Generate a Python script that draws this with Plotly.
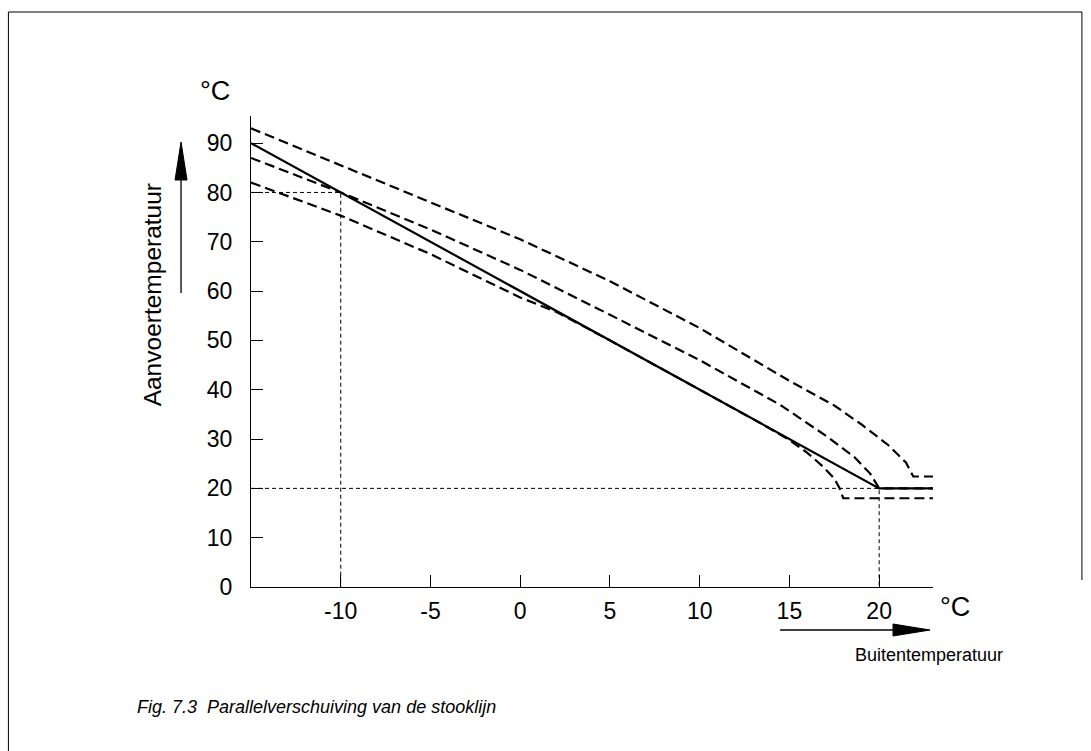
import plotly.graph_objects as go

# ---------------- data ----------------
base_x = [-15, 20, 23]
base_y = [90, 20, 20]

curveA_x = [-15, -10, -5, 0, 5, 10, 15, 17.5, 19, 20.5, 21.5, 21.9, 23]
curveA_y = [93, 85.5, 78, 70.5, 62, 52.5, 41.8, 36.8, 33, 28.8, 25.2, 22.4, 22.4]

curveB_x = [-15, -10, -5, 0, 5, 10, 14.5, 15.6, 17.1, 18.6, 19.5, 20, 23]
curveB_y = [87, 80, 72.5, 64.3, 55.2, 46, 36.9, 34.2, 30.5, 26.4, 23, 20, 20]

curveC_x = [-15, -10, -5, 0, 2, 5, 10, 13.5, 15, 16, 16.9, 17.5, 17.8, 18, 23]
curveC_y = [82, 75.3, 67.5, 58.7, 55.8, 50, 40, 33, 29.8, 27.2, 24.3, 22, 20, 18, 18]

# guide lines (design point -10 -> 80, end point 20 -> 20)
guide1_x = [-15, -10, -10]
guide1_y = [80, 80, 0]
guide2_x = [-15, 20, 20]
guide2_y = [20, 20, 0]

y_ticks = [0, 10, 20, 30, 40, 50, 60, 70, 80, 90]
y_ticklabels = ["0", "10", "20", "30", "40", "50", "60", "70", "80", "90"]
x_ticks = [-10, -5, 0, 5, 10, 15, 20]
x_ticklabels = ["-10", "-5", "0", "5", "10", "15", "20"]

X_RANGE = [-15, 23]
Y_RANGE = [0, 95.5]

# ---------------- layout geometry (pixels) ----------------
W, H = 1091, 751
L, R, T, B = 250.7, 933.0, 116.0, 587.0


def pxx(p):
    return (p - L) / (R - L)


def pxy(p):
    return (B - p) / (B - T)


FONT = "Liberation Sans, Arial, sans-serif"

fig = go.Figure()

guide_style = dict(color="black", width=1, dash="4px,3px")
fig.add_trace(go.Scatter(x=guide1_x, y=guide1_y, mode="lines", line=guide_style,
                         hoverinfo="skip", showlegend=False))
fig.add_trace(go.Scatter(x=guide2_x, y=guide2_y, mode="lines", line=guide_style,
                         hoverinfo="skip", showlegend=False))

dash_style = dict(color="black", width=2.2, dash="10px,5px")
for cx, cy in [(curveA_x, curveA_y), (curveB_x, curveB_y), (curveC_x, curveC_y)]:
    fig.add_trace(go.Scatter(x=cx, y=cy, mode="lines", line=dash_style,
                             showlegend=False))

fig.add_trace(go.Scatter(x=base_x, y=base_y, mode="lines",
                         line=dict(color="black", width=2.2), showlegend=False))

shapes = []
# page frame
for x0, y0, x1, y1 in [(8, 12, 1082, 12), (8, 12, 8, 751), (1082, 12, 1082, 580)]:
    shapes.append(dict(type="line", xref="paper", yref="paper",
                       x0=pxx(x0), y0=pxy(y0), x1=pxx(x1), y1=pxy(y1),
                       line=dict(color="black", width=1)))
# y arrow
shapes.append(dict(type="line", xref="paper", yref="paper",
                   x0=pxx(180.7), y0=pxy(293), x1=pxx(180.7), y1=pxy(175),
                   line=dict(color="black", width=1.3)))
shapes.append(dict(type="path", xref="paper", yref="paper",
                   path=f"M {pxx(174.7)} {pxy(180)} L {pxx(180.7)} {pxy(142)} L {pxx(186.7)} {pxy(180)} Z",
                   fillcolor="black", line=dict(color="black", width=1)))
# x arrow
AY = 630
shapes.append(dict(type="line", xref="paper", yref="paper",
                   x0=pxx(780), y0=pxy(AY), x1=pxx(900), y1=pxy(AY),
                   line=dict(color="black", width=1.3)))
shapes.append(dict(type="path", xref="paper", yref="paper",
                   path=f"M {pxx(893)} {pxy(AY - 6)} L {pxx(930)} {pxy(AY)} L {pxx(893)} {pxy(AY + 6)} Z",
                   fillcolor="black", line=dict(color="black", width=1)))

annotations = [
    dict(text="°C", xref="paper", yref="paper", x=pxx(215), y=pxy(91),
         xanchor="center", yanchor="middle", showarrow=False,
         font=dict(family=FONT, size=27, color="black")),
    dict(text="°C", xref="paper", yref="paper", x=pxx(955), y=pxy(607),
         xanchor="center", yanchor="middle", showarrow=False,
         font=dict(family=FONT, size=27, color="black")),
    dict(text="Aanvoertemperatuur", xref="paper", yref="paper", x=pxx(152), y=pxy(295),
         xanchor="center", yanchor="middle", textangle=-90, showarrow=False,
         font=dict(family=FONT, size=24.5, color="black")),
    dict(text="Buitentemperatuur", xref="paper", yref="paper", x=pxx(929), y=pxy(655),
         xanchor="center", yanchor="middle", showarrow=False,
         font=dict(family=FONT, size=18, color="black")),
    dict(text="<i>Fig. 7.3  Parallelverschuiving van de stooklijn</i>", xref="paper", yref="paper",
         x=pxx(135), y=pxy(707), xanchor="left", yanchor="middle", showarrow=False,
         font=dict(family=FONT, size=18, color="black")),
]

fig.update_layout(
    width=W, height=H, autosize=False,
    margin=dict(l=L, r=W - R, t=T, b=H - B, pad=0),
    paper_bgcolor="white", plot_bgcolor="white",
    shapes=shapes, annotations=annotations,
    showlegend=False,
    xaxis=dict(range=X_RANGE, showgrid=False, zeroline=False, showline=True,
               linecolor="black", linewidth=1.3, ticks="inside", ticklen=12,
               tickcolor="black", tickwidth=1, tickvals=x_ticks, ticktext=x_ticklabels,
               ticklabelstandoff=3,
               tickfont=dict(family=FONT, size=23, color="black"), fixedrange=True),
    yaxis=dict(range=Y_RANGE, showgrid=False, zeroline=False, showline=True,
               linecolor="black", linewidth=1.3, ticks="inside", ticklen=12,
               tickcolor="black", tickwidth=1, tickvals=y_ticks, ticktext=y_ticklabels,
               ticklabelstandoff=13,
               tickfont=dict(family=FONT, size=23, color="black"), fixedrange=True),
)

fig.write_html("out.html", config={"displayModeBar": False},
               post_script="document.body.style.margin='0px';")
